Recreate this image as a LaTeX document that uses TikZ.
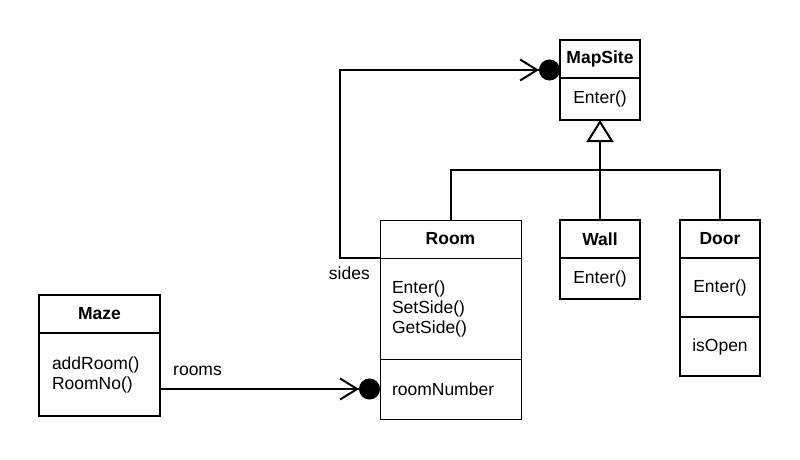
\documentclass[tikz,border=0pt]{standalone}
\usepackage{fontspec}
\setmainfont{Liberation Sans}
\usetikzlibrary{arrows.meta,positioning}

\begin{document}
\begin{tikzpicture}[
    x=1pt,
    y=-1pt,
    font=\fontsize{17.5}{20}\selectfont,
    cls/.style={
        draw,
        rectangle,
        line width=2pt,
        inner sep=0pt,
        outer sep=0pt,
        minimum width=80pt
    },
    title/.style={
        cls,
        minimum height=38pt,
        font=\fontsize{17.5}{20}\selectfont\bfseries
    },
    thin/.style={
        line width=1pt
    },
    link/.style={
        line width=2pt
    },
    assoc/.style={
        link,
        -{Straight Barb[length=17pt,width=21pt]Circle[length=21pt]}
    },
    inherit/.style={
        link,
        -{Triangle[open,length=22pt,width=27pt]}
    }
    ]
    \useasboundingbox (0,0) rectangle (800,459);

    \node[title,anchor=north west] (mapsite) at (560,40) {MapSite};
    \node[cls,below=0pt of mapsite,minimum height=42pt] (mapsiteops) {Enter()};

    \node[title,thin,anchor=north west,minimum width=141pt] (room) at (380,220) {Room};
    \node[cls,thin,below=0pt of room,minimum height=101pt,text width=117pt,inner xsep=12pt,align=left] (roomops) {Enter()\\SetSide()\\GetSide()};
    \node[cls,thin,below=0pt of roomops,minimum height=60pt,text width=117pt,inner xsep=12pt,align=left] (roomattr) {roomNumber};

    \node[title,anchor=north west] (wall) at (560,220) {Wall};
    \node[cls,below=0pt of wall,minimum height=41pt] (wallops) {Enter()};

    \node[title,anchor=north west] (door) at (680,220) {Door};
    \node[cls,below=0pt of door,minimum height=59pt] (doorops) {Enter()};
    \node[cls,below=0pt of doorops,minimum height=59pt] (doorattr) {isOpen};

    \node[title,anchor=north west,minimum width=121pt] (maze) at (39,295) {Maze};
    \node[cls,below=0pt of maze,minimum height=83pt,text width=95pt,inner xsep=13pt,align=left] (mazeops) {addRoom()\\RoomNo()};

    \coordinate (bar) at (600,170);
    \draw[link] (room.north) |- (bar) -| (door.north);
    \draw[inherit] (wall.north) -- (mapsiteops.south);

    \draw[assoc] (room.south west) -- ++(-40,0) |- ([yshift=-11pt]mapsite.west);
    \node[anchor=east,inner sep=0pt] (sides) at ([xshift=-10pt,yshift=-15pt]room.south west) {sides};

    \draw[assoc] (mazeops.east |- roomattr.west) -- (roomattr.west);
    \node[anchor=west,inner sep=0pt] (rooms) at ([xshift=13pt,yshift=18pt]mazeops.east |- roomattr.west) {rooms};
\end{tikzpicture}
\end{document}
